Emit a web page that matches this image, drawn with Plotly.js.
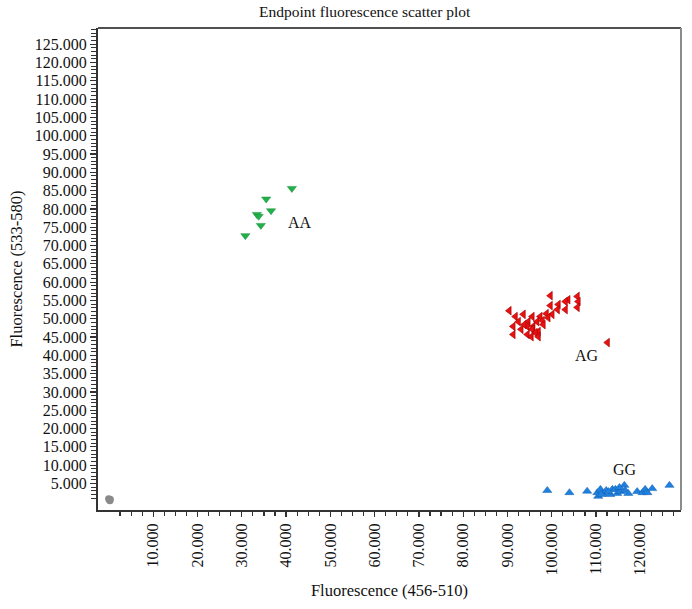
<!DOCTYPE html>
<html>
<head>
<meta charset="utf-8">
<script src="https://cdn.plot.ly/plotly-3.0.1.min.js"></script>
<style>html,body{margin:0;padding:0;background:#fff;}#chart{width:692px;height:609px;}</style>
</head>
<body>
<div id="chart"></div>
<script>
// Genotype clusters (x = Fluorescence 456-510, y = Fluorescence 533-580)
const aaX = [41300, 35500, 36600, 33400, 33800, 34300, 30800];
const aaY = [85600, 82700, 79500, 78500, 78000, 75500, 72700];

const agX = [99700, 103700, 105800, 106000, 103100, 101500, 99700, 101300, 103100, 105800,
             90400, 100100, 91800, 93600, 95600, 97400, 98800, 92500, 94700, 96700,
             97900, 91300, 94500, 95800, 98100, 93100, 95600, 97000, 91300, 94500,
             96300, 97000, 95400, 93800, 99200, 112600];
const agY = [56300, 55200, 56100, 54700, 54700, 53900, 53600, 52500, 52500, 53100,
             52200, 51200, 50600, 51200, 50600, 50600, 51400, 49200, 49200, 49200,
             49500, 47900, 47900, 47900, 48400, 47100, 47100, 46500, 45700, 45700,
             46200, 45100, 45100, 48400, 50300, 43500];

const ggX = [99000, 104000, 108000, 110300, 110500, 111000, 111600, 112300, 113200, 113700,
             114400, 114800, 115500, 116400, 116600, 117300, 119300, 120500, 121100, 121600,
             122700, 126600, 111200, 112800, 115300];
const ggY = [3100, 2500, 2900, 2500, 1500, 3400, 2300, 3100, 2000, 3400,
             3400, 2300, 2800, 4500, 3100, 2300, 2800, 2500, 3400, 2500,
             3600, 4500, 2000, 2800, 3900];

const ntcX = [100, 300, -100, 200];
const ntcY = [500, 700, 800, 300];

const clusterLabels = ['AA', 'AG', 'GG'];
const labelX = [40000, 104900, 113400];
const labelY = [76300, 40000, 8800];

const xTickVals = [10000, 20000, 30000, 40000, 50000, 60000, 70000, 80000, 90000, 100000, 110000, 120000];
const xTickText = ['10.000', '20.000', '30.000', '40.000', '50.000', '60.000', '70.000', '80.000', '90.000', '100.000', '110.000', '120.000'];
const yTickVals = [5000, 10000, 15000, 20000, 25000, 30000, 35000, 40000, 45000, 50000, 55000, 60000, 65000,
                   70000, 75000, 80000, 85000, 90000, 95000, 100000, 105000, 110000, 115000, 120000, 125000];
const yTickText = ['5.000', '10.000', '15.000', '20.000', '25.000', '30.000', '35.000', '40.000', '45.000', '50.000',
                   '55.000', '60.000', '65.000', '70.000', '75.000', '80.000', '85.000', '90.000', '95.000', '100.000',
                   '105.000', '110.000', '115.000', '120.000', '125.000'];

const xMinor = [];
for (let v = 2500; v <= 127500; v += 2500) if (v % 10000 !== 0) xMinor.push(v);
const yMinor = [];
for (let v = 1000; v <= 129000; v += 1000) if (v % 5000 !== 0) yMinor.push(v);

const FONT = 'Liberation Serif, Times New Roman, serif';

const traces = [
  {x: ntcX, y: ntcY, type: 'scatter', mode: 'markers', name: 'NTC',
   marker: {symbol: 'circle', size: 7, color: '#8a8a8a'}},
  {x: aaX, y: aaY, type: 'scatter', mode: 'markers', name: 'AA',
   marker: {symbol: 'triangle-down', size: 8, color: '#22b04a', line: {color: '#1a9038', width: 0.5}}},
  {x: agX, y: agY, type: 'scatter', mode: 'markers', name: 'AG',
   marker: {symbol: 'triangle-left', size: 7.5, color: '#ea1010', line: {color: '#a00000', width: 0.6}}},
  {x: ggX, y: ggY, type: 'scatter', mode: 'markers', name: 'GG',
   marker: {symbol: 'triangle-up', size: 8, color: '#1f80e0', line: {color: '#1060b0', width: 0.5}}}
];

const annotations = clusterLabels.map((t, i) => ({
  x: labelX[i], y: labelY[i], xref: 'x', yref: 'y', text: t, showarrow: false,
  xanchor: 'left', yanchor: 'middle', font: {family: FONT, size: 16, color: '#111'}
}));

const layout = {
  width: 692, height: 609,
  margin: {l: 98, r: 11, t: 28, b: 99, pad: 0},
  paper_bgcolor: '#fff', plot_bgcolor: '#fff',
  showlegend: false,
  font: {family: FONT, size: 16, color: '#111'},
  title: {text: 'Endpoint fluorescence scatter plot', x: 0.527, xanchor: 'center', y: 0.981, yanchor: 'middle',
          font: {family: FONT, size: 15.5, color: '#111'}},
  xaxis: {
    range: [-2485, 129200], showgrid: false, zeroline: false,
    showline: true, linecolor: '#333', linewidth: 2,
    tickmode: 'array', tickvals: xTickVals, ticktext: xTickText, tickangle: -90,
    ticks: 'outside', ticklen: 5, tickwidth: 1.2, tickcolor: '#333',
    minor: {tickmode: 'array', tickvals: xMinor, ticks: 'outside', ticklen: 4, tickwidth: 1.2, tickcolor: '#333'},
    tickfont: {family: FONT, size: 16, color: '#111'},
    title: {text: 'Fluorescence (456-510)', font: {family: FONT, size: 16.5, color: '#111'}, standoff: 10}
  },
  yaxis: {
    range: [-2240, 129420], showgrid: false, zeroline: false,
    showline: true, linecolor: '#333', linewidth: 2,
    tickmode: 'array', tickvals: yTickVals, ticktext: yTickText,
    ticks: 'outside', ticklen: 6, tickwidth: 1.2, tickcolor: '#333',
    minor: {tickmode: 'array', tickvals: yMinor, ticks: 'outside', ticklen: 5, tickwidth: 1, tickcolor: '#333'},
    tickfont: {family: FONT, size: 16, color: '#111'},
    title: {text: 'Fluorescence (533-580)', font: {family: FONT, size: 16.5, color: '#111'}, standoff: 8}
  },
  shapes: [
    {type: 'line', xref: 'paper', yref: 'paper', x0: 0, x1: 1, y0: 1, y1: 1, line: {color: '#505050', width: 2}},
    {type: 'line', xref: 'paper', yref: 'paper', x0: 1, x1: 1, y0: 0, y1: 1, line: {color: '#8c8c8c', width: 2}}
  ],
  annotations: annotations
};

Plotly.newPlot('chart', traces, layout, {displayModeBar: false, staticPlot: true});
</script>
</body>
</html>
